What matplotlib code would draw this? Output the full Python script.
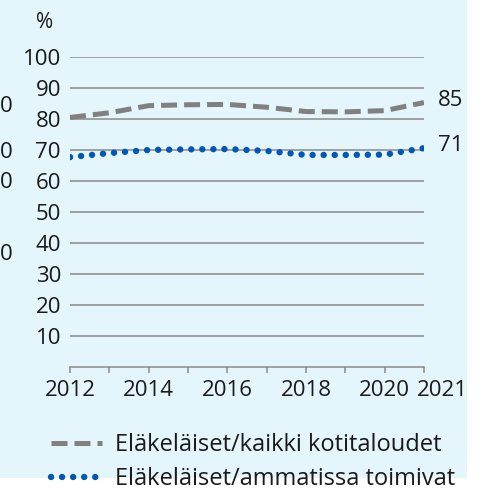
import matplotlib.pyplot as plt
from matplotlib.patches import Rectangle
from matplotlib.transforms import ScaledTranslation

plt.rcParams['font.family'] = ['Open Sans', 'DejaVu Sans']

years = [2012, 2013, 2014, 2015, 2016, 2017, 2018, 2019, 2020, 2021]
kaikki = [80.5, 82.0, 84.3, 84.6, 84.7, 83.8, 82.4, 82.3, 82.7, 85.3]
ammatissa = [67.7, 69.0, 70.0, 70.2, 70.3, 69.7, 68.4, 68.4, 68.5, 70.6]
label_kaikki = "Eläkeläiset/kaikki kotitaloudet"
label_ammatissa = "Eläkeläiset/ammatissa toimivat"
end_labels = ["85", "71"]
xtick_labels = [2012, 2014, 2016, 2018, 2020, 2021]
yticks = [10, 20, 30, 40, 50, 60, 70, 80, 90, 100]

W = H = 488
bg = "#e4f5fc"
grey = "#808080"
blue = "#0057b8"
txt = "#1a1a1a"
fs = 16

fig = plt.figure(figsize=(4.88, 4.88), dpi=100)
fig.patch.set_facecolor("white")
fig.patches.append(Rectangle((0, 1 - 478 / H), 467 / W, 478 / H,
                             transform=fig.transFigure, facecolor=bg,
                             edgecolor="none", zorder=-10))

ax = fig.add_axes([70 / W, 1 - 367 / H, (424 - 70) / W, (367 - 57) / H])
ax.set_facecolor("none")

ax.plot(years, kaikki, color=grey, lw=3.6, dashes=(3.2, 1.4),
        label=label_kaikki, zorder=3)
ax.plot(years, ammatissa, color=blue, lw=4.6, dashes=(0.01, 1.72),
        dash_capstyle="round", label=label_ammatissa, zorder=3)

ax.set_xlim(2012, 2021)
ax.set_ylim(0, 100)
ax.set_yticks(yticks)
ax.set_xticks(years)
ax.set_xticklabels([str(y) if y in xtick_labels else "" for y in years])
ax.grid(axis="y", color="#8a8a8a", lw=1.1)
ax.set_axisbelow(True)
for s in ["left", "top", "right"]:
    ax.spines[s].set_visible(False)
ax.spines["bottom"].set_color("#8a8a8a")
ax.spines["bottom"].set_linewidth(1.1)
ax.tick_params(axis="y", length=0, pad=6.5, labelsize=fs, labelcolor=txt)
ax.tick_params(axis="x", length=4.5, width=1.1, color="#8a8a8a", pad=5,
               labelsize=fs, labelcolor=txt)

# last year label sits right of its tick
lbl = ax.get_xticklabels()[-1]
lbl.set_transform(lbl.get_transform() + ScaledTranslation(18 / 100, 0, fig.dpi_scale_trans))

ax.annotate(end_labels[0], (years[-1], kaikki[-1]), xytext=(10, 1.5),
            textcoords="offset points", fontsize=fs, va="center",
            color=txt, annotation_clip=False)
ax.annotate(end_labels[1], (years[-1], ammatissa[-1]), xytext=(10, 2),
            textcoords="offset points", fontsize=fs, va="center",
            color=txt, annotation_clip=False)

fig.text(45 / W, 1 - 22 / H, "%", fontsize=fs - 1, ha="center", va="center",
         color=txt)

# clipped labels of the neighbouring panel
for yy in [106, 152, 182, 254]:
    fig.text(13 / W, 1 - yy / H, "0", fontsize=fs, ha="right", va="center",
             color=txt)

fig.legend(loc="upper left", bbox_to_anchor=(51 / W, 1 - 433 / H),
           frameon=False, fontsize=fs + 1, handlelength=2.15, handletextpad=0.55,
           labelspacing=0.42, borderpad=0, borderaxespad=0,
           labelcolor=txt)

fig.savefig("out.png", dpi=100)
